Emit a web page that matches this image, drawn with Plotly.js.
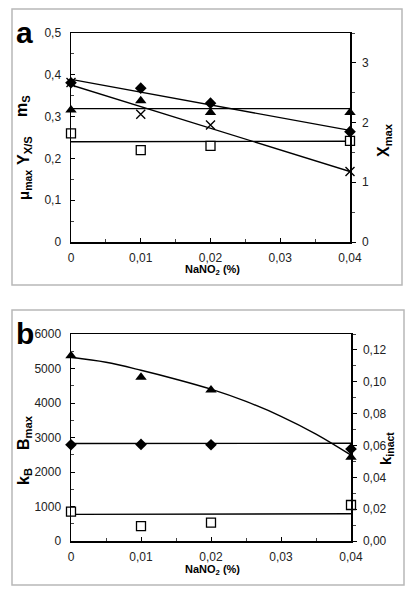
<!DOCTYPE html>
<html>
<head>
<meta charset="utf-8">
<script src="https://cdn.plot.ly/plotly-3.0.1.min.js"></script>
<style>html,body{margin:0;padding:0;background:#fff;}#chart{width:414px;height:596px;}</style>
</head>
<body>
<div id="chart"></div>
<script>
// ---------- data ----------
const nano2 = [0, 0.01, 0.02, 0.04];
const xTickVals = [0, 0.01, 0.02, 0.03, 0.04];
const xTickText = ["0", "0,01", "0,02", "0,03", "0,04"];

// panel a (left axis: mu_max, Y_X/S, m_S ; right axis: X_max)
const aDiamond = [0.381, 0.368, 0.332, 0.264];
const aDiamondFitX = [0, 0.04];
const aDiamondFit = [0.389, 0.267];
const aTriangle = [0.316, 0.338, 0.310, 0.310];
const aTriangleFitX = [0, 0.04];
const aTriangleFit = [0.319, 0.319];
const aSquare = [0.260, 0.220, 0.230, 0.242];
const aSquareFitX = [0, 0.04];
const aSquareFit = [0.240, 0.241];
const aCross = [2.67, 2.14, 1.96, 1.18];        // X_max (right axis)
const aCrossFitX = [0, 0.04];
const aCrossFit = [2.63, 1.18];
const aLeftTickVals = [0, 0.1, 0.2, 0.3, 0.4, 0.5];
const aLeftTickText = ["0", "0,1", "0,2", "0,3", "0,4", "0,5"];
const aRightTickVals = [0, 1, 2, 3];
const aRightTickText = ["0", "1", "2", "3"];

// panel b (left axis: B_max, k_B ; right axis: k_inact)
const bTriangle = [5371, 4745, 4377, 2430];
const bCurveX = [0, 0.005, 0.01, 0.015, 0.02, 0.025, 0.03, 0.035, 0.04];
const bCurve = [5325, 5180, 4950, 4690, 4400, 4045, 3615, 3100, 2490];
const bDiamond = [2790, 2800, 2790, 2667];
const bDiamondFitX = [0, 0.04];
const bDiamondFit = [2825, 2832];
const bSquare = [0.0184, 0.0094, 0.0115, 0.0226];   // k_inact (right axis)
const bSquareFitX = [0, 0.04];
const bSquareFit = [0.0167, 0.0171];
const bLeftTickVals = [0, 1000, 2000, 3000, 4000, 5000, 6000];
const bLeftTickText = ["0", "1000", "2000", "3000", "4000", "5000", "6000"];
const bRightTickVals = [0, 0.02, 0.04, 0.06, 0.08, 0.10, 0.12];
const bRightTickText = ["0,00", "0,02", "0,04", "0,06", "0,08", "0,10", "0,12"];

// ---------- helpers ----------
const W = 414, H = 596;
const px = v => v / W;
const py = v => 1 - v / H;
const FONT = "Liberation Sans, Arial, sans-serif";
const BLK = "#000";

function fit(x, y, xa, ya) {
  return {x: x, y: y, xaxis: xa, yaxis: ya, mode: "lines", line: {color: BLK, width: 1.4}, hoverinfo: "skip", showlegend: false};
}
function pts(x, y, xa, ya, marker) {
  return {x: x, y: y, xaxis: xa, yaxis: ya, mode: "markers", marker: marker, showlegend: false, cliponaxis: false};
}
const mDiamond = {symbol: "diamond", size: 9, color: BLK};
const mTriangle = {symbol: "triangle-up", size: 10, color: BLK};
const mSquare = {symbol: "square", size: 9, color: "#fff", line: {color: BLK, width: 1.3}};
const mCross = {symbol: "x-thin", size: 9, color: BLK, line: {color: BLK, width: 1.4}};

const traces = [
  fit(aDiamondFitX, aDiamondFit, "x", "y"),
  fit(aTriangleFitX, aTriangleFit, "x", "y"),
  fit(aSquareFitX, aSquareFit, "x", "y"),
  fit(aCrossFitX, aCrossFit, "x", "y2"),
  pts(nano2, aSquare, "x", "y", mSquare),
  pts(nano2, aTriangle, "x", "y", mTriangle),
  pts(nano2, aDiamond, "x", "y", mDiamond),
  pts(nano2, aCross, "x", "y2", mCross),

  {x: bCurveX, y: bCurve, xaxis: "x2", yaxis: "y3", mode: "lines", line: {color: BLK, width: 1.4, shape: "spline", smoothing: 1}, showlegend: false, hoverinfo: "skip"},
  fit(bDiamondFitX, bDiamondFit, "x2", "y3"),
  fit(bSquareFitX, bSquareFit, "x2", "y4"),
  pts(nano2, bSquare, "x2", "y4", mSquare),
  pts(nano2, bDiamond, "x2", "y3", mDiamond),
  pts(nano2, bTriangle, "x2", "y3", mTriangle)
];

const tickFont = {family: FONT, size: 12, color: "#222"};
function xAx(domain, anchor) {
  return {domain: domain, anchor: anchor, range: [0, 0.04], tickmode: "array", tickvals: xTickVals, ticktext: xTickText,
    ticks: "inside", ticklen: 4, tickcolor: BLK, showline: true, linecolor: BLK, linewidth: 1.5, mirror: true,
    showgrid: false, zeroline: false, tickfont: tickFont, fixedrange: true, ticklabelstandoff: 4,
    minor: {tickmode: "linear", tick0: 0, dtick: 0.005, ticks: "inside", ticklen: 3, tickcolor: "#444", showgrid: false}};
}
function yAx(domain, anchor, range, tv, tt, minorD, extra) {
  return Object.assign({domain: domain, anchor: anchor, range: range, tickmode: "array", tickvals: tv, ticktext: tt,
    ticks: "inside", ticklen: 4, tickcolor: BLK, showline: true, linecolor: BLK, linewidth: 1.5,
    showgrid: false, zeroline: false, tickfont: tickFont, fixedrange: true, ticklabelstandoff: 6,
    minor: {tickmode: "linear", tick0: 0, dtick: minorD, ticks: "inside", ticklen: 3, tickcolor: "#444", showgrid: false}}, extra || {});
}

const domA = [py(242), py(33)];
const domB = [py(541), py(334)];

const boldT = (t, size, x, y, angle) => ({text: t, xref: "paper", yref: "paper", x: px(x), y: py(y), showarrow: false,
  textangle: angle || 0, font: {family: FONT, size: size, color: BLK}, xanchor: "center", yanchor: "middle"});

const layout = {
  width: W, height: H, margin: {l: 0, r: 0, t: 0, b: 0},
  paper_bgcolor: "#fff", plot_bgcolor: "rgba(0,0,0,0)", showlegend: false,
  xaxis: xAx([px(71), px(350)], "y"),
  yaxis: yAx(domA, "x", [0, 0.5], aLeftTickVals, aLeftTickText, 0.05, {mirror: false}),
  yaxis2: yAx(domA, "x", [0, 3.5], aRightTickVals, aRightTickText, 0.5, {overlaying: "y", side: "right", ticks: "outside", ticklabelstandoff: 4, minor: {tickmode: "linear", tick0: 0, dtick: 0.5, ticks: "outside", ticklen: 3, tickcolor: "#444"}}),
  xaxis2: xAx([px(71), px(351)], "y3"),
  yaxis3: yAx(domB, "x2", [0, 6000], bLeftTickVals, bLeftTickText, 500, {mirror: false}),
  yaxis4: yAx(domB, "x2", [0, 0.13], bRightTickVals, bRightTickText, 0.01, {overlaying: "y3", side: "right", ticks: "outside", ticklabelstandoff: 4, minor: {tickmode: "linear", tick0: 0, dtick: 0.01, ticks: "outside", ticklen: 3, tickcolor: "#444"}}),
  shapes: [
    {type: "rect", xref: "paper", yref: "paper", x0: px(12), x1: px(402), y0: py(285), y1: py(9), line: {color: "#b8b8b8", width: 1.5}},
    {type: "rect", xref: "paper", yref: "paper", x0: px(12), x1: px(404), y0: py(585), y1: py(310), line: {color: "#b8b8b8", width: 1.5}}
  ],
  annotations: [
    boldT("<b>a</b>", 30, 24, 33),
    boldT("<b>b</b>", 30, 25, 333),
    boldT("<b>m<sub>S</sub></b>", 16, 22, 106, -90),
    boldT("<b>Y<sub>X/S</sub></b>", 16, 24, 151, -90),
    boldT("<b>μ<sub>max</sub></b>", 15, 24, 185, -90),
    boldT("<b>X<sub>max</sub></b>", 16, 384, 140, -90),
    boldT("<b>NaNO<sub>2</sub> (%)</b>", 11, 213, 270),
    boldT("<b>B<sub>max</sub></b>", 16, 24, 433, -90),
    boldT("<b>k<sub>B</sub></b>", 16, 24, 477, -90),
    boldT("<b>k<sub>inact</sub></b>", 15, 386, 449, -90),
    boldT("<b>NaNO<sub>2</sub> (%)</b>", 11, 213, 570)
  ]
};

Plotly.newPlot("chart", traces, layout, {staticPlot: true, displayModeBar: false});
</script>
</body>
</html>
